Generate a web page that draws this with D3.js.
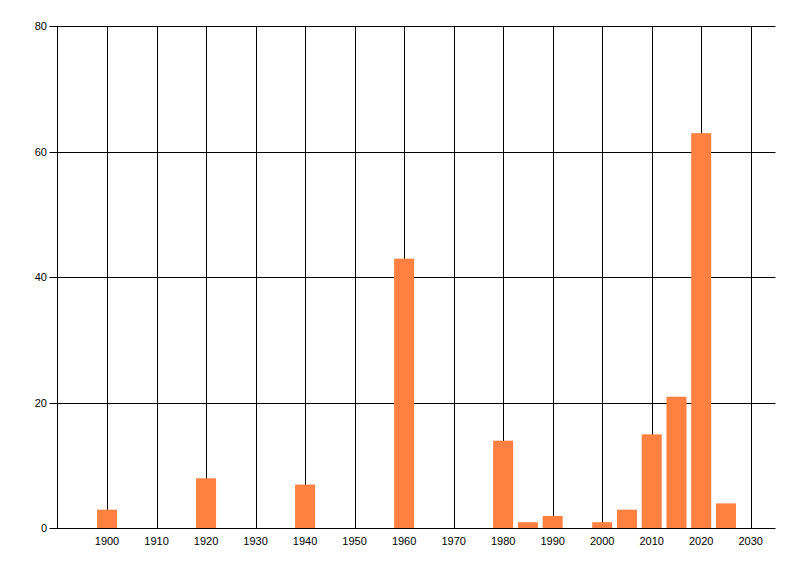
<!DOCTYPE html>
<html><head><meta charset="utf-8">
<script src="https://cdn.jsdelivr.net/npm/d3@7"></script>
<style>body{margin:0;background:#fff}svg{display:block}text{font-family:"Liberation Sans",Arial,sans-serif;font-size:11px;fill:#000}</style>
</head><body><svg id="c" width="800" height="576"></svg>
<script>
const years = [1900, 1920, 1940, 1960, 1980, 1985, 1990, 2000, 2005, 2010, 2015, 2020, 2025];
const values = [3, 8, 7, 43, 14, 1, 2, 1, 3, 15, 21, 63, 4];
const xTicks = [1900, 1910, 1920, 1930, 1940, 1950, 1960, 1970, 1980, 1990, 2000, 2010, 2020, 2030];
const yTicks = [0, 20, 40, 60, 80];

const svg = d3.select("#c");
const L = 57.5, R = 775.5, T = 26.5, B = 528.5;
const x = d3.scaleLinear().domain([1890, 2035]).range([L, R]);
const y = d3.scaleLinear().domain([0, 80]).range([B, T]);
const barW = 20;

// vertical gridlines
svg.append("g").selectAll("line").data(xTicks).join("line")
  .attr("x1", d => Math.round(x(d)) + 0.5).attr("x2", d => Math.round(x(d)) + 0.5)
  .attr("y1", T).attr("y2", B).attr("stroke", "#000").attr("stroke-width", 1);
// horizontal gridlines
svg.append("g").selectAll("line").data(yTicks).join("line")
  .attr("x1", L - 8).attr("x2", R)
  .attr("y1", d => Math.round(y(d) - 0.5) + 0.5).attr("y2", d => Math.round(y(d) - 0.5) + 0.5)
  .attr("stroke", "#000").attr("stroke-width", 1);
// left axis line
svg.append("line").attr("x1", L).attr("x2", L).attr("y1", T).attr("y2", B).attr("stroke", "#000");

// bars
svg.append("g").selectAll("rect").data(years).join("rect")
  .attr("x", d => x(d) - barW / 2).attr("width", barW)
  .attr("y", (d, i) => y(values[i])).attr("height", (d, i) => y(0) - 0.5 - y(values[i]))
  .attr("fill", "#ff8040");

// y labels
svg.append("g").selectAll("text").data(yTicks).join("text")
  .attr("x", 47).attr("y", d => y(d)).attr("dy", "0.35em").attr("text-anchor", "end").text(d => d);
// x labels
svg.append("g").selectAll("text").data(xTicks).join("text")
  .attr("x", d => x(d)).attr("y", 541).attr("dy", "0.35em").attr("text-anchor", "middle").text(d => d);
</script></body></html>
